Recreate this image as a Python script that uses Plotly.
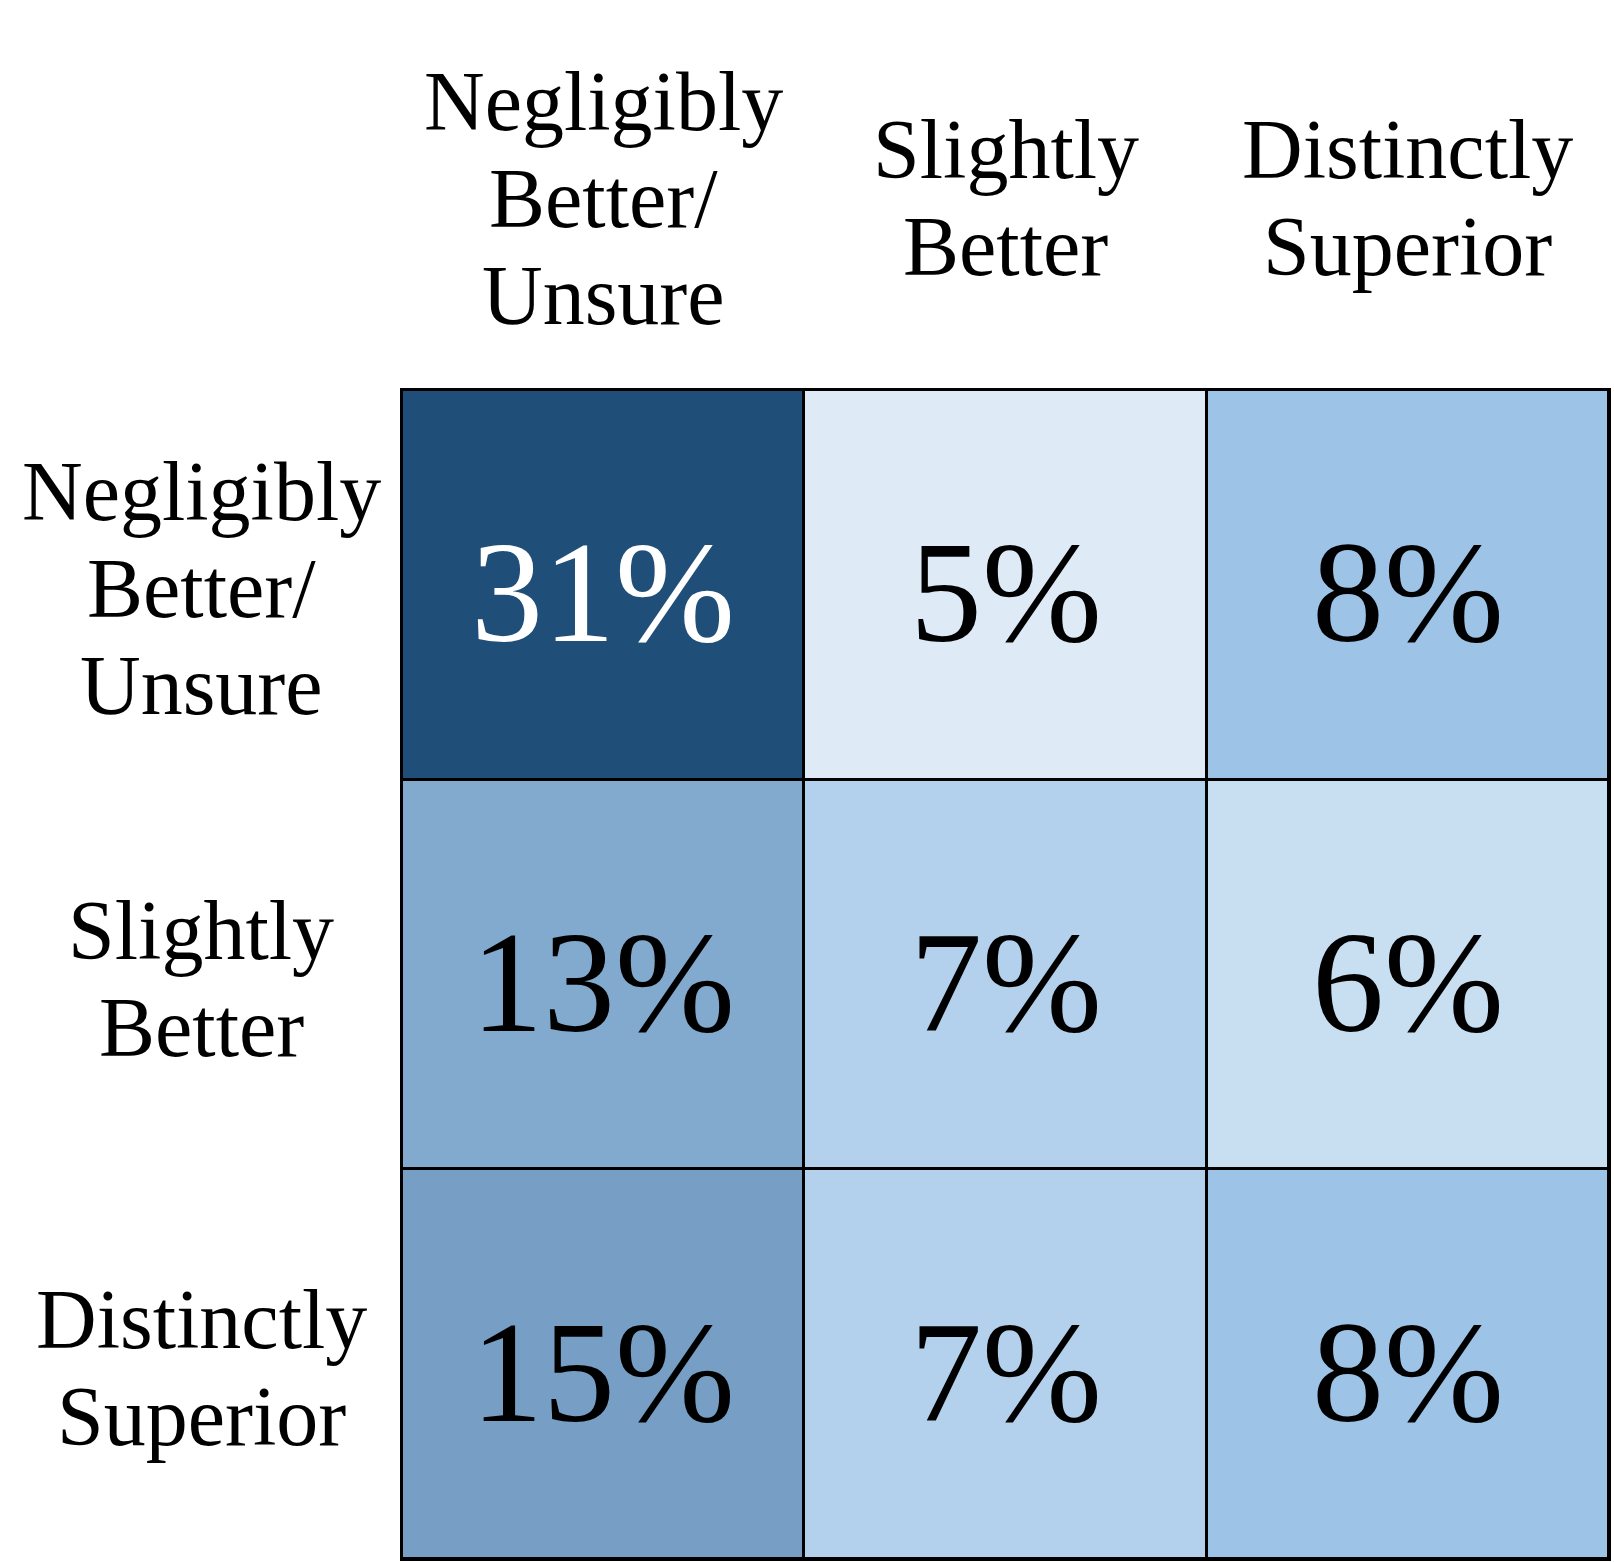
import plotly.graph_objects as go

# ---- data ----
col_labels = ["Negligibly<br>Better/<br>Unsure", "Slightly<br>Better", "Distinctly<br>Superior"]
row_labels = ["Negligibly<br>Better/<br>Unsure", "Slightly<br>Better", "Distinctly<br>Superior"]
values = [
    [31, 5, 8],
    [13, 7, 6],
    [15, 7, 8],
]

# ---- style ----
W, H = 1614, 1562
ML, MR, MT, MB = 402, 3, 390, 3
FONT = "Liberation Serif"
LABEL_SIZE = 84
CELL_SIZE = 144
LINE_STEP = 97

flat = sorted(v for r in values for v in r)
zmin, zmax = flat[0], flat[-1]
zmid = flat[len(flat) // 2]
colorscale = [
    [0.0, "#DEEBF7"],
    [(zmid - zmin) / (zmax - zmin), "#9DC3E6"],
    [1.0, "#1F4E79"],
]

fig = go.Figure(
    go.Heatmap(
        z=values,
        x=list(range(len(col_labels))),
        y=list(range(len(row_labels))),
        zmin=zmin,
        zmax=zmax,
        colorscale=colorscale,
        showscale=False,
        xgap=3,
        ygap=3,
        hoverinfo="skip",
    )
)

annotations = []
# cell values
for i, row in enumerate(values):
    for j, v in enumerate(row):
        annotations.append(dict(
            x=j, y=i, xref="x", yref="y",
            text=f"{v}%", showarrow=False,
            xanchor="center", yanchor="middle", yshift=-8,
            font=dict(family=FONT, size=CELL_SIZE,
                      color="white" if v > (zmid + zmax) / 2 else "black"),
        ))

pw = W - ML - MR
# column headers (one annotation per line)
for j, lab in enumerate(col_labels):
    lines = lab.split("<br>")
    n = len(lines)
    for k, line in enumerate(lines):
        off = (k - (n - 1) / 2) * LINE_STEP
        annotations.append(dict(
            x=j, y=1, xref="x", yref="paper",
            text=line, showarrow=False,
            xanchor="center", yanchor="middle",
            yshift=192 - off,
            font=dict(family=FONT, size=LABEL_SIZE, color="black"),
        ))
# row headers
for i, lab in enumerate(row_labels):
    lines = lab.split("<br>")
    n = len(lines)
    for k, line in enumerate(lines):
        off = (k - (n - 1) / 2) * LINE_STEP
        annotations.append(dict(
            x=-(ML / 2) / pw, y=i, xref="paper", yref="y",
            text=line, showarrow=False,
            xanchor="center", yanchor="middle",
            yshift=-4 - off,
            font=dict(family=FONT, size=LABEL_SIZE, color="black"),
        ))

axis_common = dict(
    showticklabels=False, ticks="", showgrid=False, zeroline=False,
    showline=True, mirror=True, linecolor="black", linewidth=2,
)
fig.update_layout(
    width=W, height=H,
    margin=dict(l=ML, r=MR, t=MT, b=MB),
    paper_bgcolor="white",
    plot_bgcolor="black",
    xaxis=dict(range=[-0.5, 2.5], **axis_common),
    yaxis=dict(range=[2.5, -0.5], **axis_common),
    annotations=annotations,
    font=dict(family=FONT),
)

fig.write_html("out.html", config={"displayModeBar": False},
               post_script="document.body.style.margin='0';")
